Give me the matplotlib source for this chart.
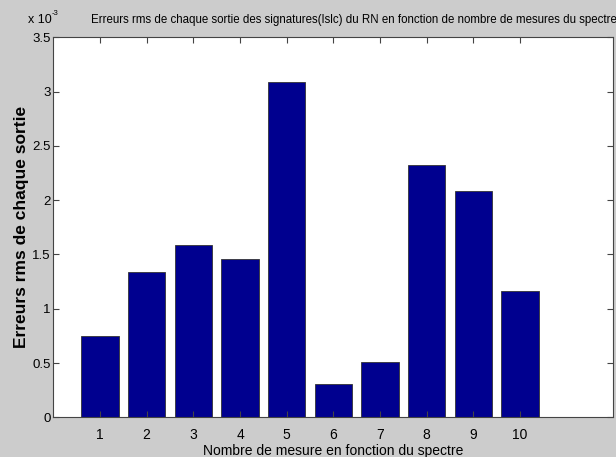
import matplotlib
matplotlib.use("Agg")
import matplotlib.pyplot as plt
import numpy as np

# valeurs (en unités de 1e-3)
mesures = [1, 2, 3, 4, 5, 6, 7, 8, 9, 10]
erreurs_rms = [0.751, 1.335, 1.587, 1.461, 3.085, 0.304, 0.512, 2.320, 2.081, 1.163]
yticks = [0, 0.5, 1, 1.5, 2, 2.5, 3, 3.5]
ytick_labels = ["0", "0.5", "1", "1.5", "2", "2.5", "3", "3.5"]

plt.rcParams['font.family'] = ["Liberation Sans", "DejaVu Sans"]

fig = plt.figure(figsize=(6.16, 4.57), dpi=100, facecolor="#cccccc")
ax = fig.add_axes([0.0866, 0.0869, 0.9091, 0.8313])
ax.bar(mesures, erreurs_rms, width=0.8, color="#00008f", edgecolor="#333333", linewidth=0.6)

ax.set_xlim(0, 12)
ax.set_ylim(0, 3.5)
ax.set_xticks(mesures)
ax.set_yticks(yticks)
ax.set_yticklabels(ytick_labels)
ax.tick_params(direction="in", top=True, right=True, length=4, width=0.8,
               labelsize=10, color="#444444")
ax.tick_params(axis="x", pad=8)
ax.tick_params(axis="y", pad=2, labelsize=9.5)
for s in ax.spines.values():
    s.set_color("#444444")
    s.set_linewidth(0.8)

ax.set_xlabel("Nombre de mesure en fonction du spectre", fontsize=10, labelpad=1)
ax.set_ylabel("Erreurs rms de chaque sortie", fontsize=12.5, fontweight="bold")
ax.yaxis.set_label_coords(-0.043, 0.5)

# facteur d'échelle et titre
fig.text(0.045, 0.949, "x 10", fontsize=9, ha="left", va="baseline")
fig.text(0.084, 0.968, "-3", fontsize=5.5, ha="left", va="baseline")
fig.text(0.148, 0.949, "Erreurs rms de chaque sortie des signatures(Islc) du RN en fonction de nombre de mesures du spectre",
         fontsize=8.3, ha="left", va="baseline")

fig.savefig("out.png", dpi=100, facecolor=fig.get_facecolor())
